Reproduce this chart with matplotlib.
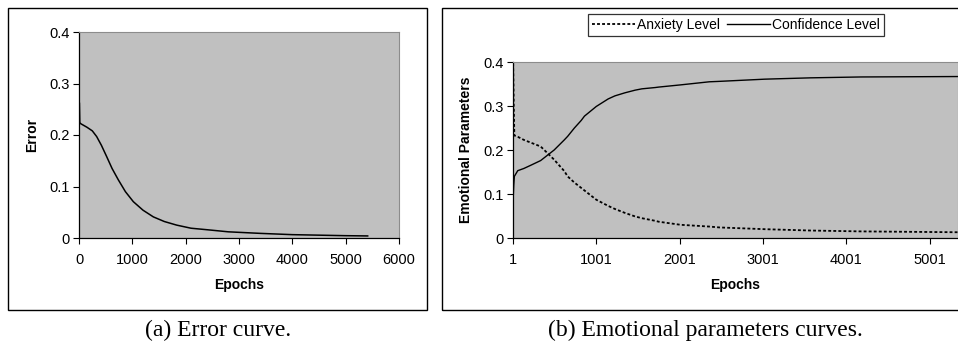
import matplotlib

matplotlib.use("Agg")

import matplotlib.pyplot as plt
from matplotlib.lines import Line2D
from matplotlib.patches import Rectangle

# (a) error curve
err_epochs = [0, 8, 15, 32, 150, 250, 331, 420, 519, 620, 737, 870, 1019, 1200, 1394,
              1600, 1832, 2100, 2457, 2800, 3396, 4000, 4500, 5000, 5413]
err_values = [0.265, 0.262, 0.224, 0.222, 0.215, 0.208, 0.197, 0.180, 0.158, 0.135, 0.113,
              0.090, 0.0705, 0.054, 0.041, 0.032, 0.025, 0.019, 0.0155, 0.012, 0.009,
              0.0065, 0.0055, 0.0045, 0.004]

# (b) emotional parameters
emo_epochs = [1, 10, 17, 58, 131, 211, 333, 495, 617, 657, 738, 819, 859, 1001, 1143,
              1224, 1345, 1467, 1548, 1710, 1750, 2013, 2357, 2479, 3026, 3572, 4180, 5394]
anxiety = [0.42, 0.30, 0.233, 0.230, 0.223, 0.217, 0.208, 0.178, 0.152, 0.140, 0.126,
           0.114, 0.108, 0.087, 0.073, 0.066, 0.057, 0.049, 0.045, 0.039, 0.037, 0.030,
           0.026, 0.024, 0.020, 0.017, 0.015, 0.013]
confidence = [0.08, 0.12, 0.140, 0.153, 0.158, 0.165, 0.176, 0.200, 0.223, 0.231, 0.250,
              0.267, 0.277, 0.299, 0.316, 0.323, 0.330, 0.336, 0.339, 0.342, 0.343, 0.348,
              0.355, 0.356, 0.361, 0.364, 0.366, 0.367]

W, H = 958, 345
SANS = "Liberation Sans"
SERIF = "Liberation Serif"
PLOT_BG = "#c0c0c0"


def fx(px):
    return px / W


def fy(py):
    return (H - py) / H


def style_axes(ax):
    ax.set_facecolor(PLOT_BG)
    for side in ("top", "right"):
        ax.spines[side].set_color("#8c8c8c")
        ax.spines[side].set_linewidth(0.8)
    for side in ("left", "bottom"):
        ax.spines[side].set_color("black")
        ax.spines[side].set_linewidth(0.9)
    ax.tick_params(direction="out", length=4, width=0.8, labelsize=10.5)
    ax.tick_params(axis="x", pad=7)
    ax.tick_params(axis="y", pad=3)
    for lab in ax.get_xticklabels() + ax.get_yticklabels():
        lab.set_fontfamily(SANS)


fig = plt.figure(figsize=(W / 100, H / 100), dpi=100)

# outer frames
fig.patches.append(Rectangle((fx(8), fy(310)), fx(427 - 8), (310 - 8) / H,
                             transform=fig.transFigure, fill=False, ec="black", lw=1.0))
fig.patches.append(Rectangle((fx(442), fy(310)), fx(980 - 442), (310 - 8) / H,
                             transform=fig.transFigure, fill=False, ec="black", lw=1.0))

# panel (a)
ax1 = fig.add_axes([fx(79), fy(238), fx(399 - 79), (238 - 32) / H])
ax1.plot(err_epochs, err_values, color="black", lw=1.1)
ax1.set_xlim(0, 6000)
ax1.set_ylim(0, 0.4)
ax1.set_xticks([0, 1000, 2000, 3000, 4000, 5000, 6000])
ax1.set_yticks([0, 0.1, 0.2, 0.3, 0.4])
ax1.set_yticklabels(["0", "0.1", "0.2", "0.3", "0.4"])
style_axes(ax1)
ax1.set_xlabel("Epochs", fontfamily=SANS, fontweight="bold", fontsize=10, labelpad=8)
ax1.set_ylabel("Error", fontfamily=SANS, fontweight="bold", fontsize=10, labelpad=7)

# panel (b)
x_right = 1 + (W - 513) / 83.3 * 1000
ax2 = fig.add_axes([fx(513), fy(238), fx(W - 513), (238 - 62) / H])
ax2.plot(emo_epochs, anxiety, color="black", lw=1.3, linestyle=(0, (1.6, 1.2)))
ax2.plot(emo_epochs, confidence, color="black", lw=1.0)
ax2.set_xlim(1, x_right)
ax2.set_ylim(0, 0.4)
ax2.set_xticks([1, 1001, 2001, 3001, 4001, 5001])
ax2.set_yticks([0, 0.1, 0.2, 0.3, 0.4])
ax2.set_yticklabels(["0", "0.1", "0.2", "0.3", "0.4"])
style_axes(ax2)
ax2.set_xlabel("Epochs", fontfamily=SANS, fontweight="bold", fontsize=10, labelpad=8)
ax2.set_ylabel("Emotional Parameters", fontfamily=SANS, fontweight="bold", fontsize=10, labelpad=7)

handles = [Line2D([], [], color="black", lw=1.3, linestyle=(0, (1.6, 1.2))),
           Line2D([], [], color="black", lw=1.0)]
leg = fig.legend(handles, ["Anxiety Level", "Confidence Level"], ncol=2,
                 loc="center", bbox_to_anchor=(fx(736), fy(25)),
                 frameon=True, fancybox=False, edgecolor="black",
                 prop={"family": SANS, "size": 10}, handlelength=3.1,
                 handletextpad=0.15, columnspacing=0.45, borderpad=0.3,
                 borderaxespad=0)
leg.get_frame().set_linewidth(0.9)

# captions
fig.text(fx(218), fy(330), "(a) Error curve.", ha="center", va="center",
         fontfamily=SERIF, fontsize=17)
fig.text(fx(705), fy(330), "(b) Emotional parameters curves.", ha="center", va="center",
         fontfamily=SERIF, fontsize=17)

fig.savefig("out.png", dpi=100)
